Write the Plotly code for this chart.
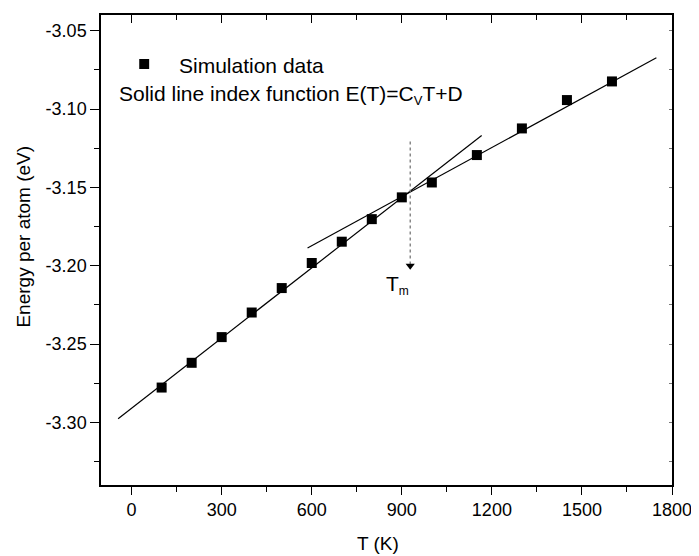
import plotly.graph_objects as go

# ---- data ----
T_sim = [100, 200, 300, 400, 500, 600, 700, 800, 900, 1000, 1150, 1300, 1450, 1600]
E_sim = [-3.2778, -3.2620, -3.2456, -3.2299, -3.2143, -3.1983, -3.1847, -3.1703,
         -3.1564, -3.1469, -3.1294, -3.1124, -3.0943, -3.0824]

# linear fits E(T) = Cv*T + D
fit_low_Cv, fit_low_D = 1.493e-4, -3.2910
fit_low_T = [-45, 1166]
fit_high_Cv, fit_high_D = 1.045e-4, -3.2500
fit_high_T = [586, 1748]

Tm = 928
Tm_arrow_E = [-3.1207, -3.2000]

x_ticks = [0, 300, 600, 900, 1200, 1500, 1800]
y_ticks = [-3.30, -3.25, -3.20, -3.15, -3.10, -3.05]

FONT = "Arial, Liberation Sans, sans-serif"

# page has an 8px body margin; figure size compensates
W, H = 691, 548
L, R, T, B = 93, 23, 7, 71
PW, PH = W - L - R, H - T - B

def px(xp):  # page x -> paper fraction
    return (xp - 8 - L) / PW

def py(yp):  # page y -> paper fraction
    return (H - B - (yp - 8)) / PH

fig = go.Figure()

fig.add_trace(go.Scatter(
    x=fit_low_T, y=[fit_low_Cv * t + fit_low_D for t in fit_low_T],
    mode="lines", line=dict(color="black", width=1.2), showlegend=False))
fig.add_trace(go.Scatter(
    x=fit_high_T, y=[fit_high_Cv * t + fit_high_D for t in fit_high_T],
    mode="lines", line=dict(color="black", width=1.2), showlegend=False))

fig.add_trace(go.Scatter(
    x=T_sim, y=E_sim, mode="markers",
    marker=dict(symbol="square", size=10, color="black"), showlegend=False))

# melting point dotted arrow
fig.add_trace(go.Scatter(
    x=[Tm, Tm], y=Tm_arrow_E, mode="lines",
    line=dict(color="#777777", width=1.3, dash="dot"), showlegend=False))
fig.add_trace(go.Scatter(
    x=[Tm], y=[Tm_arrow_E[1]], mode="markers",
    marker=dict(symbol="triangle-down", size=8, color="black"), showlegend=False))

axis_common = dict(showgrid=False, zeroline=False, showline=True,
                   linecolor="black", linewidth=1.5)

fig.update_layout(
    width=W, height=H,
    margin=dict(l=L, r=R, t=T, b=B),
    paper_bgcolor="white", plot_bgcolor="white",
    font=dict(family=FONT, color="black", size=18),
    xaxis=dict(range=[-102, 1800], tickvals=x_ticks, ticks="outside",
               ticklen=8, tickwidth=1.3, tickcolor="black",
               tickfont=dict(size=18, family=FONT),
               minor=dict(dtick=150, ticks="outside", ticklen=5, tickwidth=1.3, tickcolor="black"),
               **axis_common),
    yaxis=dict(range=[-3.34, -3.04], tickvals=y_ticks, ticktext=[f"{v:.2f}" for v in y_ticks],
               ticks="outside", ticklen=9, tickwidth=1.3, tickcolor="black",
               tickfont=dict(size=18, family=FONT),
               minor=dict(dtick=0.025, ticks="outside", ticklen=5, tickwidth=1.3, tickcolor="black"),
               **axis_common),
    xaxis2=dict(overlaying="x", matches="x", side="top", showticklabels=False,
                tickvals=x_ticks, ticks="inside", ticklen=8, tickwidth=1.3, tickcolor="black",
                minor=dict(dtick=150, ticks="inside", ticklen=5, tickwidth=1.3, tickcolor="black"),
                **axis_common),
    yaxis2=dict(overlaying="y", matches="y", side="right", showticklabels=False,
                tickvals=y_ticks, ticks="inside", ticklen=3, tickwidth=1, tickcolor="#777777",
                minor=dict(dtick=0.025, ticks="inside", ticklen=3, tickwidth=1, tickcolor="#777777"),
                **axis_common),
)

# dummy trace to activate secondary axes
fig.add_trace(go.Scatter(x=[None], y=[None], xaxis="x2", yaxis="y2", showlegend=False,
                         hoverinfo="skip"))

# axis titles
fig.add_annotation(text="T (K)", xref="paper", yref="paper", x=px(380), y=py(543),
                   xanchor="center", yanchor="middle", showarrow=False,
                   font=dict(size=19, family=FONT))
fig.add_annotation(text="Energy per atom (eV)", xref="paper", yref="paper", x=px(22), y=py(237),
                   xanchor="center", yanchor="middle", textangle=-90, showarrow=False,
                   font=dict(size=19, family=FONT))

# legend-like text
fig.add_shape(type="rect", xref="paper", yref="paper",
              x0=px(139.5), x1=px(149.5), y0=py(69), y1=py(59),
              fillcolor="black", line=dict(width=0))
fig.add_annotation(text="Simulation data", xref="paper", yref="paper",
                   x=px(178), y=py(65),
                   xanchor="left", yanchor="middle", showarrow=False,
                   font=dict(size=21, family=FONT))
fig.add_annotation(text="Solid line index function E(T)=C<sub><span style='font-size:13px'>V</span></sub>T+D",
                   xref="paper", yref="paper",
                   x=px(117), y=py(95),
                   xanchor="left", yanchor="middle", showarrow=False,
                   font=dict(size=21, family=FONT))

# T_m label
fig.add_annotation(text="T<sub><span style='font-size:12px'>m</span></sub>", xref="x", yref="y",
                   x=840, y=-3.2125, xanchor="left", yanchor="middle", showarrow=False,
                   font=dict(size=21, family=FONT))

fig.write_html("out.html")
